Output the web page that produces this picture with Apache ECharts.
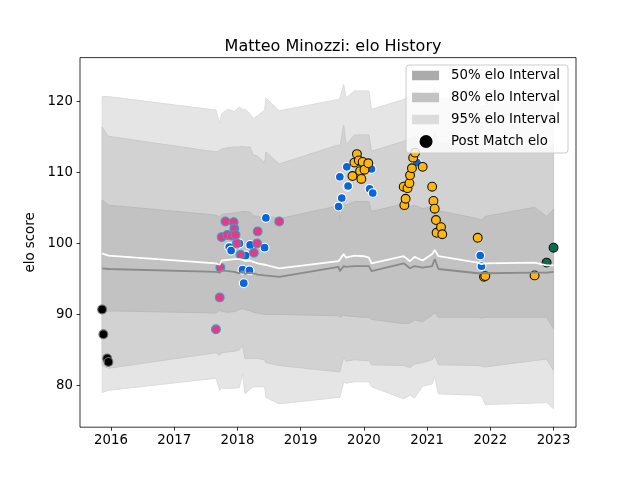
<!DOCTYPE html>
<html>
<head>
<meta charset="utf-8">
<script src="https://cdn.jsdelivr.net/npm/echarts@6/dist/echarts.min.js"></script>
<style>
html, body { margin: 0; padding: 0; background: #fff; }
#chart { width: 640px; height: 480px; }
</style>
</head>
<body>
<div id="chart"></div>
<script>
// tick labels
var xTicks = [2016, 2017, 2018, 2019, 2020, 2021, 2022, 2023];
var yTicks = [80, 90, 100, 110, 120];

// post match elo, grouped by marker colour (decimal years)
var blackDates = [2015.86, 2015.88, 2015.94, 2015.96];
var blackElo = [90.7, 87.2, 83.8, 83.3];

var blueDates = [2017.87, 2017.90, 2018.03, 2018.08, 2018.10, 2018.13, 2018.19, 2018.20, 2018.43, 2018.45,
    2019.60, 2019.62, 2019.65, 2019.73, 2019.74, 2019.75, 2020.09, 2020.12, 2020.14, 2020.84, 2021.84, 2021.86];
var blueElo = [99.5, 99.0, 100.0, 96.3, 94.4, 98.3, 96.2, 99.8, 99.4, 103.6,
    105.2, 109.4, 106.4, 110.8, 108.0, 108.1, 107.7, 110.5, 107.1, 111.4, 98.3, 96.8];

var pinkDates = [2017.66, 2017.72, 2017.73, 2017.75, 2017.81, 2017.84, 2017.91, 2017.94, 2017.95, 2017.97,
    2017.99, 2018.05, 2018.26, 2018.31, 2018.32, 2018.66];
var pinkElo = [87.9, 92.4, 96.6, 100.9, 103.1, 101.2, 101.1, 103.0, 102.1, 101.2,
    100.0, 98.4, 98.7, 100.0, 101.7, 103.1];

var orangeDates = [2019.82, 2019.85, 2019.89, 2019.92, 2019.94, 2019.96, 2019.98, 2020.01, 2020.07,
    2020.63, 2020.64, 2020.66, 2020.69, 2020.72, 2020.73, 2020.76, 2020.78, 2020.81, 2020.93,
    2021.08, 2021.10, 2021.12, 2021.14, 2021.15, 2021.22, 2021.24, 2021.80, 2021.90, 2021.92, 2022.70];
var orangeElo = [109.5, 111.4, 112.6, 111.7, 110.2, 109.1, 111.5, 110.4, 111.3,
    108.0, 105.4, 106.3, 107.8, 108.5, 109.6, 110.6, 112.1, 112.8, 110.8,
    108.0, 106.0, 104.9, 103.3, 101.5, 102.3, 101.3, 100.8, 95.3, 95.4, 95.5];

var greenDates = [2022.89, 2023.00];
var greenElo = [97.3, 99.4];

// elo history: interval bounds and centre lines
var knots = [2015.86, 2015.96, 2017.66, 2017.72, 2017.75, 2017.85, 2017.95, 2018.03, 2018.08, 2018.12,
    2018.20, 2018.25, 2018.32, 2018.43, 2018.45, 2018.66, 2019.60, 2019.62, 2019.68, 2019.72,
    2019.85, 2020.00, 2020.08, 2020.12, 2020.63, 2020.73, 2020.80, 2020.93, 2021.08, 2021.12,
    2021.18, 2021.80, 2021.86, 2021.92, 2022.70, 2022.89, 2023.00];
var upper95 = [120.7, 120.7, 118.8, 116.9, 118.3, 118.9, 118.6, 119.2, 118.9, 118.9,
    118.3, 117.6, 118.0, 118.8, 120.5, 118.7, 120.3, 120.4, 122.4, 120.5,
    121.5, 121.5, 121.5, 118.9, 120.3, 120.8, 121.5, 121.0, 120.8, 122.0,
    120.5, 119.8, 119.3, 119.5, 120.0, 119.5, 120.3];
var upper80 = [116.4, 115.1, 112.9, 113.1, 113.3, 113.5, 113.6, 113.6, 113.7, 113.6,
    113.6, 112.5, 112.3, 111.4, 112.9, 111.2, 113.9, 113.5, 116.7, 113.9,
    115.3, 115.3, 115.3, 113.0, 114.4, 114.8, 115.2, 114.8, 114.5, 115.8,
    114.2, 113.6, 113.2, 113.3, 113.8, 113.4, 114.0];
var upper50 = [106.1, 105.4, 104.0, 103.7, 104.1, 104.2, 104.3, 104.4, 104.5, 104.5,
    104.4, 103.9, 103.8, 103.5, 103.9, 103.5, 105.3, 103.3, 105.6, 105.4,
    105.9, 105.9, 105.9, 104.5, 105.6, 105.2, 105.4, 104.9, 105.2, 105.5,
    104.6, 103.5, 103.3, 103.8, 105.1, 103.8, 104.8];
var meanElo = [98.6, 98.3, 97.2, 97.0, 97.6, 97.7, 97.8, 97.8, 97.7, 97.5,
    97.6, 97.4, 97.2, 97.0, 96.9, 96.5, 97.5, 97.3, 98.5, 98.0,
    98.3, 98.2, 98.0, 97.2, 98.2, 97.5, 98.1, 97.6, 98.5, 99.1,
    98.2, 97.3, 97.1, 97.2, 97.3, 96.9, 96.9];
var medianElo = [96.5, 96.4, 96.0, 95.9, 96.2, 96.1, 96.0, 95.8, 96.1, 95.7,
    95.9, 95.8, 95.6, 95.5, 95.6, 95.3, 96.7, 96.1, 96.8, 96.7,
    96.8, 96.8, 96.8, 96.1, 97.2, 96.5, 96.8, 96.6, 96.8, 97.8,
    96.4, 95.8, 95.8, 95.8, 95.9, 95.9, 96.0];
var lower50 = [90.5, 90.5, 90.2, 90.6, 90.4, 90.3, 90.4, 90.7, 90.8, 90.7,
    90.5, 90.3, 90.2, 90.0, 90.0, 90.0, 89.8, 89.6, 89.9, 89.8,
    89.7, 89.6, 89.6, 89.3, 88.7, 88.8, 89.2, 89.0, 89.9, 90.3,
    89.6, 89.6, 89.5, 89.6, 89.6, 89.6, 88.0];
var lower80 = [82.8, 82.4, 84.6, 84.2, 84.6, 84.7, 84.8, 85.0, 85.6, 83.8,
    83.8, 83.8, 83.8, 83.6, 83.2, 82.8, 81.9, 81.9, 84.0, 83.4,
    83.6, 83.5, 83.5, 82.9, 82.8, 82.5, 83.0, 83.2, 83.6, 84.2,
    82.9, 82.8, 82.7, 82.6, 83.5, 83.7, 82.1];
var lower95 = [79.0, 79.3, 81.0, 79.3, 79.6, 79.6, 79.6, 79.7, 81.7, 78.8,
    79.5, 79.8, 79.8, 79.8, 78.3, 77.4, 78.3, 78.3, 80.5, 80.3,
    80.5, 80.5, 80.5, 79.8, 78.1, 78.6, 78.2, 79.9, 80.2, 81.2,
    78.8, 78.6, 78.5, 77.3, 77.5, 77.6, 76.7];

var font = 'DejaVu Sans';

function zip(xs, ys) {
    return xs.map(function (x, i) { return [x, ys[i]]; });
}

// one polygon per interval, upper edge then lower edge back
function bandSeries(name, lo, hi, fill, edge) {
    return {
        name: name,
        type: 'custom',
        silent: true,
        z: 1,
        itemStyle: { color: fill },
        data: [[knots[0], lo[0]]],
        renderItem: function (params, api) {
            var pts = [];
            for (var i = 0; i < knots.length; i++) pts.push(api.coord([knots[i], hi[i]]));
            for (var j = knots.length - 1; j >= 0; j--) pts.push(api.coord([knots[j], lo[j]]));
            return {
                type: 'polygon',
                shape: { points: pts },
                style: { fill: fill, stroke: edge, lineWidth: 1 }
            };
        }
    };
}

function dots(name, xs, ys, fill, edge) {
    return {
        name: name,
        type: 'scatter',
        z: 2,
        symbolSize: 8.8,
        itemStyle: { color: fill, borderColor: edge, borderWidth: 1.1, opacity: 1 },
        data: zip(xs, ys)
    };
}

// legend icons: rect patch / circle inside a 34x13 box
var patchIcon = 'path://M0,0M0,1.8L27,1.8L27,11.2L0,11.2Z M34,13';
var dotIcon = 'path://M0,0M7.5,6.5a6.5,6.5 0 1,0 13,0a6.5,6.5 0 1,0 -13,0Z M34,13';

var option = {
    animation: false,
    backgroundColor: '#ffffff',
    textStyle: { fontFamily: font },
    title: {
        text: 'Matteo Minozzi: elo History',
        left: 328,
        textAlign: 'center',
        top: 34,
        textStyle: { fontFamily: font, fontSize: 16, fontWeight: 'normal', color: '#000' }
    },
    legend: {
        orient: 'vertical',
        right: 72,
        top: 65,
        itemWidth: 34,
        itemHeight: 13,
        itemGap: 9,
        padding: [4, 8, 5, 6],
        backgroundColor: 'rgba(255,255,255,0.8)',
        borderColor: '#cccccc',
        borderWidth: 1,
        borderRadius: 3,
        selectedMode: false,
        textStyle: { fontFamily: font, fontSize: 13.3, color: '#000' },
        data: [
            { name: '50% elo Interval', icon: patchIcon, itemStyle: { color: '#ababab', borderWidth: 0 } },
            { name: '80% elo Interval', icon: patchIcon, itemStyle: { color: '#c3c3c3', borderWidth: 0 } },
            { name: '95% elo Interval', icon: patchIcon, itemStyle: { color: '#dcdcdc', borderWidth: 0 } },
            { name: 'Post Match elo', icon: dotIcon, itemStyle: { color: '#000000', borderWidth: 0 } }
        ]
    },
    grid: {
        left: 80,
        right: 64,
        top: 57.6,
        bottom: 52.8,
        show: true,
        borderColor: '#000',
        borderWidth: 0.8,
        backgroundColor: 'transparent',
        outerBoundsMode: 'none'
    },
    xAxis: {
        type: 'value',
        min: 2015.51,
        max: 2023.355,
        axisLine: { show: false },
        axisTick: { show: true, length: 3.5, customValues: xTicks, lineStyle: { color: '#000', width: 0.8 } },
        axisLabel: {
            customValues: xTicks,
            formatter: function (v) { return String(v); },
            color: '#000', fontFamily: font, fontSize: 13.3, margin: 7
        },
        splitLine: { show: false }
    },
    yAxis: {
        type: 'value',
        min: 74.1,
        max: 126.2,
        name: 'elo score',
        nameLocation: 'middle',
        nameGap: 41,
        nameTextStyle: { fontFamily: font, fontSize: 13.3, color: '#000' },
        axisLine: { show: false },
        axisTick: { show: true, length: 3.5, customValues: yTicks, lineStyle: { color: '#000', width: 0.8 } },
        axisLabel: {
            customValues: yTicks,
            formatter: function (v) { return String(v); },
            color: '#000', fontFamily: font, fontSize: 13.3, margin: 7
        },
        splitLine: { show: false }
    },
    series: [
        bandSeries('95% elo Interval', lower95, upper95, '#e5e5e5', '#dcdcdc'),
        bandSeries('80% elo Interval', lower80, upper80, '#d2d2d2', '#cacaca'),
        bandSeries('50% elo Interval', lower50, upper50, '#c2c2c2', '#bababa'),
        dots('Post Match elo', blackDates, blackElo, '#000000', '#6e6e6e'),
        dots('blue', blueDates, blueElo, '#0a66d8', '#ffffff'),
        dots('pink', pinkDates, pinkElo, '#e03c8a', '#2aa8c6'),
        dots('orange', orangeDates, orangeElo, '#ffb70a', '#111111'),
        dots('green', greenDates, greenElo, '#0b6b4f', '#111111'),
        {
            name: 'median elo',
            type: 'line',
            z: 3,
            silent: true,
            showSymbol: false,
            lineStyle: { color: '#8a8a8a', width: 1.8 },
            data: zip(knots, medianElo)
        },
        {
            name: 'mean elo',
            type: 'line',
            z: 3,
            silent: true,
            showSymbol: false,
            lineStyle: { color: '#ffffff', width: 1.8 },
            data: zip(knots, meanElo)
        }
    ]
};

var chart = echarts.init(document.getElementById('chart'));
chart.setOption(option);
</script>
</body>
</html>
